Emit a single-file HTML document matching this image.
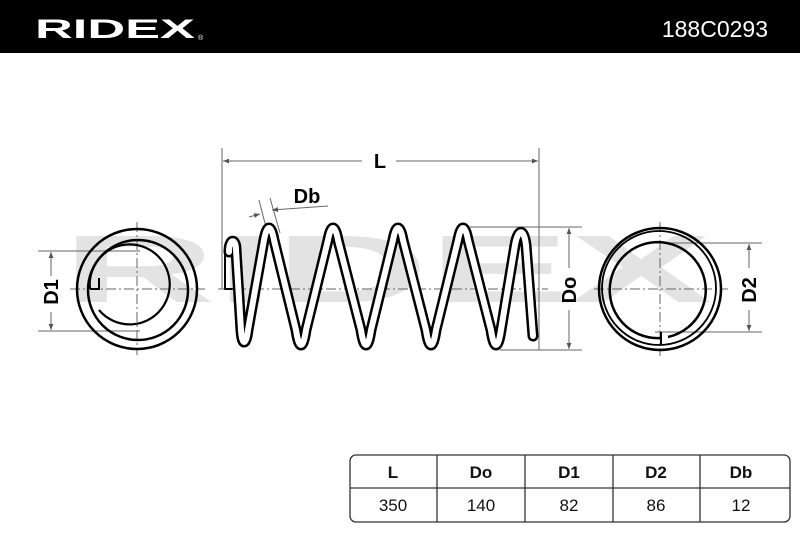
<!DOCTYPE html>
<html><head><meta charset="utf-8"><style>
html,body{margin:0;padding:0;background:#fff;}
body{width:800px;height:533px;position:relative;overflow:hidden;font-family:"Liberation Sans",sans-serif;}
</style></head><body>
<svg width="800" height="533" viewBox="0 0 800 533" xmlns="http://www.w3.org/2000/svg">
<defs>
<marker id="a" viewBox="0 0 10 10" refX="10" refY="5" markerWidth="8" markerHeight="6" orient="auto-start-reverse"><path d="M0,1 L10,5 L0,9 z" fill="#555"/></marker>
</defs>
<rect x="0" y="0" width="800" height="53" fill="#000"/>
<text x="35" y="38" fill="#fff" font-size="27" font-weight="bold" textLength="160" lengthAdjust="spacingAndGlyphs">RIDEX</text>
<text x="198" y="40" fill="#fff" font-size="7">®</text>
<text x="768" y="37" fill="#fff" font-size="23" text-anchor="end">188C0293</text>
<text x="62" y="302" fill="#e3e3e3" font-size="96" font-weight="bold" textLength="650" lengthAdjust="spacingAndGlyphs">RIDEX</text>
<g stroke="#666" stroke-width="1" fill="none">
<line x1="70" y1="289" x2="205" y2="289" stroke-dasharray="10,3,2,3"/>
<line x1="137" y1="222" x2="137" y2="355" stroke-dasharray="10,3,2,3"/>
<line x1="218" y1="289" x2="548" y2="289" stroke-dasharray="10,3,2,3"/>
<line x1="594" y1="289" x2="728" y2="289" stroke-dasharray="10,3,2,3"/>
<line x1="660" y1="222" x2="660" y2="356" stroke-dasharray="10,3,2,3"/>
<line x1="222" y1="148" x2="222" y2="289"/>
<line x1="539" y1="148" x2="539" y2="350"/>
<line x1="223" y1="161" x2="362" y2="161" marker-start="url(#a)"/>
<line x1="396" y1="161" x2="538" y2="161" marker-end="url(#a)"/>
<line x1="38" y1="251" x2="140" y2="251"/>
<line x1="38" y1="331" x2="140" y2="331"/>
<line x1="51" y1="252" x2="51" y2="276" marker-start="url(#a)"/>
<line x1="51" y1="312" x2="51" y2="330" marker-end="url(#a)"/>
<line x1="470" y1="227" x2="582" y2="227"/>
<line x1="500" y1="350" x2="582" y2="350"/>
<line x1="569" y1="228" x2="569" y2="268" marker-start="url(#a)"/>
<line x1="569" y1="310" x2="569" y2="349" marker-end="url(#a)"/>
<line x1="655" y1="243" x2="762" y2="243"/>
<line x1="655" y1="332" x2="762" y2="332"/>
<line x1="749" y1="244" x2="749" y2="268" marker-start="url(#a)"/>
<line x1="749" y1="310" x2="749" y2="331" marker-end="url(#a)"/>
<line x1="259" y1="200" x2="268" y2="235"/>
<line x1="270" y1="198" x2="280" y2="233"/>
<line x1="249" y1="217" x2="260" y2="214" marker-end="url(#a)"/>
<line x1="328" y1="206" x2="272" y2="210" marker-end="url(#a)"/>
</g>
<g font-weight="bold" font-size="20" fill="#000">
<text x="380" y="168" text-anchor="middle">L</text>
<text x="307" y="203" text-anchor="middle">Db</text>
<text transform="translate(58,292) rotate(-90)" text-anchor="middle">D1</text>
<text transform="translate(576,290) rotate(-90)" text-anchor="middle">Do</text>
<text transform="translate(756,290) rotate(-90)" text-anchor="middle">D2</text>
</g>
<g fill="none" stroke-linecap="round" stroke-linejoin="round">
<path d="M229,252 C229,238 236,238 236,250 L241,330 C242,346 246,346 248,330 L264,240 C267,224 271,224 274,240 L296,330 C299,350 303,350 306,330 L328,240 C331,224 335,224 338,240 L361,330 C364,350 368,350 371,330 L393,240 C396,224 400,224 403,240 L426,330 C429,350 433,350 436,330 L458,240 C461,224 465,224 468,240 L491,330 C494,350 498,350 501,330 L515,245 C518,228 524,228 526,245 L533,336" stroke="#000" stroke-width="11"/>
<path d="M229,252 C229,238 236,238 236,250 L241,330 C242,346 246,346 248,330 L264,240 C267,224 271,224 274,240 L296,330 C299,350 303,350 306,330 L328,240 C331,224 335,224 338,240 L361,330 C364,350 368,350 371,330 L393,240 C396,224 400,224 403,240 L426,330 C429,350 433,350 436,330 L458,240 C461,224 465,224 468,240 L491,330 C494,350 498,350 501,330 L515,245 C518,228 524,228 526,245 L533,336" stroke="#fff" stroke-width="6"/>
<path d="M225,248 L225,289 L232,289" stroke="#000" stroke-width="2"/>
</g>
<g fill="none" stroke="#000" stroke-width="2.5">
<circle cx="137" cy="289" r="60"/>
<circle cx="138" cy="290" r="50"/>
<path d="M90,289 A40,40 0 1 1 99,310" stroke-width="2.2"/>
<path d="M90,289 L99,289 L99,278" stroke-width="2"/>
</g>
<g fill="none" stroke="#000" stroke-width="2.5">
<circle cx="660" cy="289" r="61"/>
<circle cx="659" cy="288" r="57" stroke-width="1.8"/>
<path d="M661,338 A48,48 0 1 1 668,337"/>
<path d="M661,332 L661,344" stroke-width="2"/>
</g>
<g stroke="#333" stroke-width="1.3" fill="none">
<rect x="350" y="455" width="440" height="67" rx="6"/>
<line x1="350" y1="488" x2="790" y2="488"/>
<line x1="437" y1="455" x2="437" y2="522"/>
<line x1="525" y1="455" x2="525" y2="522"/>
<line x1="613" y1="455" x2="613" y2="522"/>
<line x1="700" y1="455" x2="700" y2="522"/>
</g>
<g font-size="17" text-anchor="middle" fill="#111">
<g font-weight="bold"><text x="393" y="478">L</text><text x="481" y="478">Do</text><text x="569" y="478">D1</text><text x="656" y="478">D2</text><text x="741" y="478">Db</text></g>
<text x="393" y="511">350</text><text x="481" y="511">140</text><text x="569" y="511">82</text><text x="656" y="511">86</text><text x="741" y="511">12</text>
</g>
</svg>
</body></html>
